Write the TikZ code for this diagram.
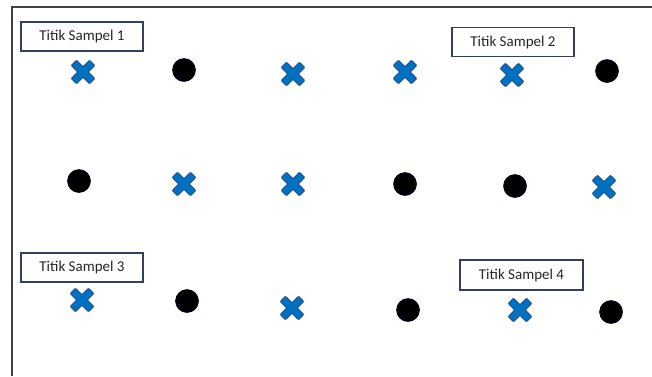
\documentclass[tikz,border=0pt]{standalone}
\usepackage{fontspec}
\setmainfont{Carlito}
\usepackage{tikz}
\usetikzlibrary{positioning}
\definecolor{xblue}{RGB}{0,112,192}
\definecolor{xedge}{RGB}{30,70,130}
\definecolor{boxedge}{RGB}{47,64,96}
\definecolor{frameline}{RGB}{64,64,64}
\tikzset{
  samplebox/.style={draw=boxedge, line width=1.4pt, fill=white, minimum width=122pt, minimum height=29pt, inner sep=0pt, font=\fontsize{15}{17}\selectfont, text=black!85},
  dot/.style={circle, fill=black, draw=black!80!blue, line width=0.6pt, minimum size=23pt, inner sep=0pt},
  xmark/.style={minimum size=28pt, inner sep=0pt,
    path picture={
      \begin{scope}[shift={(path picture bounding box.center)}, x=1pt, y=1pt]
        \filldraw[fill=xblue, draw=xedge, line width=0.8pt, rounded corners=0.8pt]
          (0,5.37) -- (6.51,11.88) -- (11.88,6.51) -- (5.37,0) -- (11.88,-6.51) -- (6.51,-11.88)
          -- (0,-5.37) -- (-6.51,-11.88) -- (-11.88,-6.51) -- (-5.37,0) -- (-11.88,6.51) -- (-6.51,11.88) -- cycle;
      \end{scope}
    }}
}
\begin{document}
\begin{tikzpicture}[x=1pt,y=-1pt]
  \useasboundingbox (0,0) rectangle (652,376);
  \draw[frameline, line width=2pt] (12,376) -- (12,7) -- (652,7);
  \node[samplebox] (s1) at (82,36.5) {Titik Sampel 1};
  \node[samplebox] (s2) at (513,42) {Titik Sampel 2};
  \node[samplebox] (s3) at (82,267.5) {Titik Sampel 3};
  \node[samplebox, minimum width=123pt, minimum height=30pt] (s4) at (521.5,275) {Titik Sampel 4};
  \node[xmark] (x11) at (83,72) {};
  \node[dot] (d12) at (184,70) {};
  \node[xmark] (x13) at (293,74) {};
  \node[xmark] (x14) at (405,72) {};
  \node[xmark] (x15) at (512,75) {};
  \node[dot] (d16) at (607,71) {};
  \node[dot] (d21) at (79,181) {};
  \node[xmark] (x22) at (184,184) {};
  \node[xmark] (x23) at (293,184) {};
  \node[dot] (d24) at (405,184) {};
  \node[dot] (d25) at (515,186) {};
  \node[xmark] (x26) at (604,187) {};
  \node[xmark] (x31) at (82,300) {};
  \node[dot] (d32) at (187,301) {};
  \node[xmark] (x33) at (292,308) {};
  \node[dot] (d34) at (408,310) {};
  \node[xmark] (x35) at (520,310) {};
  \node[dot] (d36) at (611,312) {};
\end{tikzpicture}
\end{document}
